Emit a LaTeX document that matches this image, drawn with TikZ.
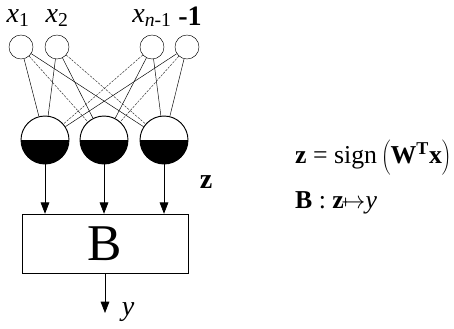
\documentclass[tikz,border=0pt]{standalone}
\usepackage{fontspec}
\setmainfont{Liberation Serif}
\usetikzlibrary{arrows.meta}
\tikzset{inp/.style={draw,circle,thin,minimum size=0.72cm,inner sep=0pt},
  hid/.style={draw,circle,thick,minimum size=1.44cm,inner sep=0pt,
    path picture={\fill (path picture bounding box.west) rectangle (path picture bounding box.south east);}},
  wgt/.style={thin},weak/.style={thin,dash pattern=on 2pt off 1pt,black!80},
  arr/.style={-{Triangle[length=3.4mm,width=2.6mm]},semithick},
  lab/.style={font=\fontsize{24}{28}\selectfont},eq/.style={font=\fontsize{22}{26}\selectfont,anchor=west,inner sep=0pt}}

\begin{document}
\begin{tikzpicture}[x=0.03cm,y=-0.03cm]
\useasboundingbox (0,0) rectangle (454,328);
% inputs
\node[inp] (in1) at (21,47) {};
\node[inp] (in2) at (57,47) {};
\node[inp] (in3) at (152,47) {};
\node[inp] (in4) at (187,47) {};
\node[lab] (lx1) at (18,18) {\textit{x}\textsubscript{1}};
\node[lab] (lx2) at (57,18) {\textit{x}\textsubscript{2}};
\node[lab] (lx3) at (152,18) {\textit{x}\textsubscript{\textit{n}-1}};
\node[lab] (lx4) at (190,16) {\textbf{-1}};
% hidden units
\node[hid] (h1) at (45,140) {};
\node[hid] (h2) at (104,140) {};
\node[hid] (h3) at (164,140) {};
\draw[wgt] (in1)--(h1); \draw[weak] (in1)--(h2); \draw[wgt] (in1)--(h3);
\draw[wgt] (in2)--(h1); \draw[wgt] (in2)--(h2); \draw[weak] (in2)--(h3);
\draw[weak] (in3)--(h1); \draw[wgt] (in3)--(h2); \draw[wgt] (in3)--(h3);
\draw[wgt] (in4)--(h1); \draw[weak] (in4)--(h2); \draw[wgt] (in4)--(h3);
% decoder
\node[draw,thin,minimum width=4.98cm,minimum height=1.77cm,font=\fontsize{44}{50}\selectfont] (box) at (105,243.5) {B};
\draw[arr] (h1)--(h1|-box.north);
\draw[arr] (h2)--(h2|-box.north);
\draw[arr] (h3)--(h3|-box.north);
\coordinate (yend) at (105,313);
\draw[arr] (box)--(yend);
\node[lab] (lz) at (206,182) {\textbf{z}};
\node[lab] (ly) at (128,312) {\textit{y}};
% equations
\node[eq] (eq1) at (295,157) {\textbf{z} = sign\,$\left(\rule[-0.35em]{0pt}{1.3em}\mbox{\textbf{W}\textsuperscript{\textbf{T}}\textbf{x}}\right)$};
\node[eq] (eq2) at (295,203) {\textbf{B} : \textbf{z}$\mapstochar\mkern-2mu\rightarrow$\textit{y}};
\end{tikzpicture}
\end{document}
